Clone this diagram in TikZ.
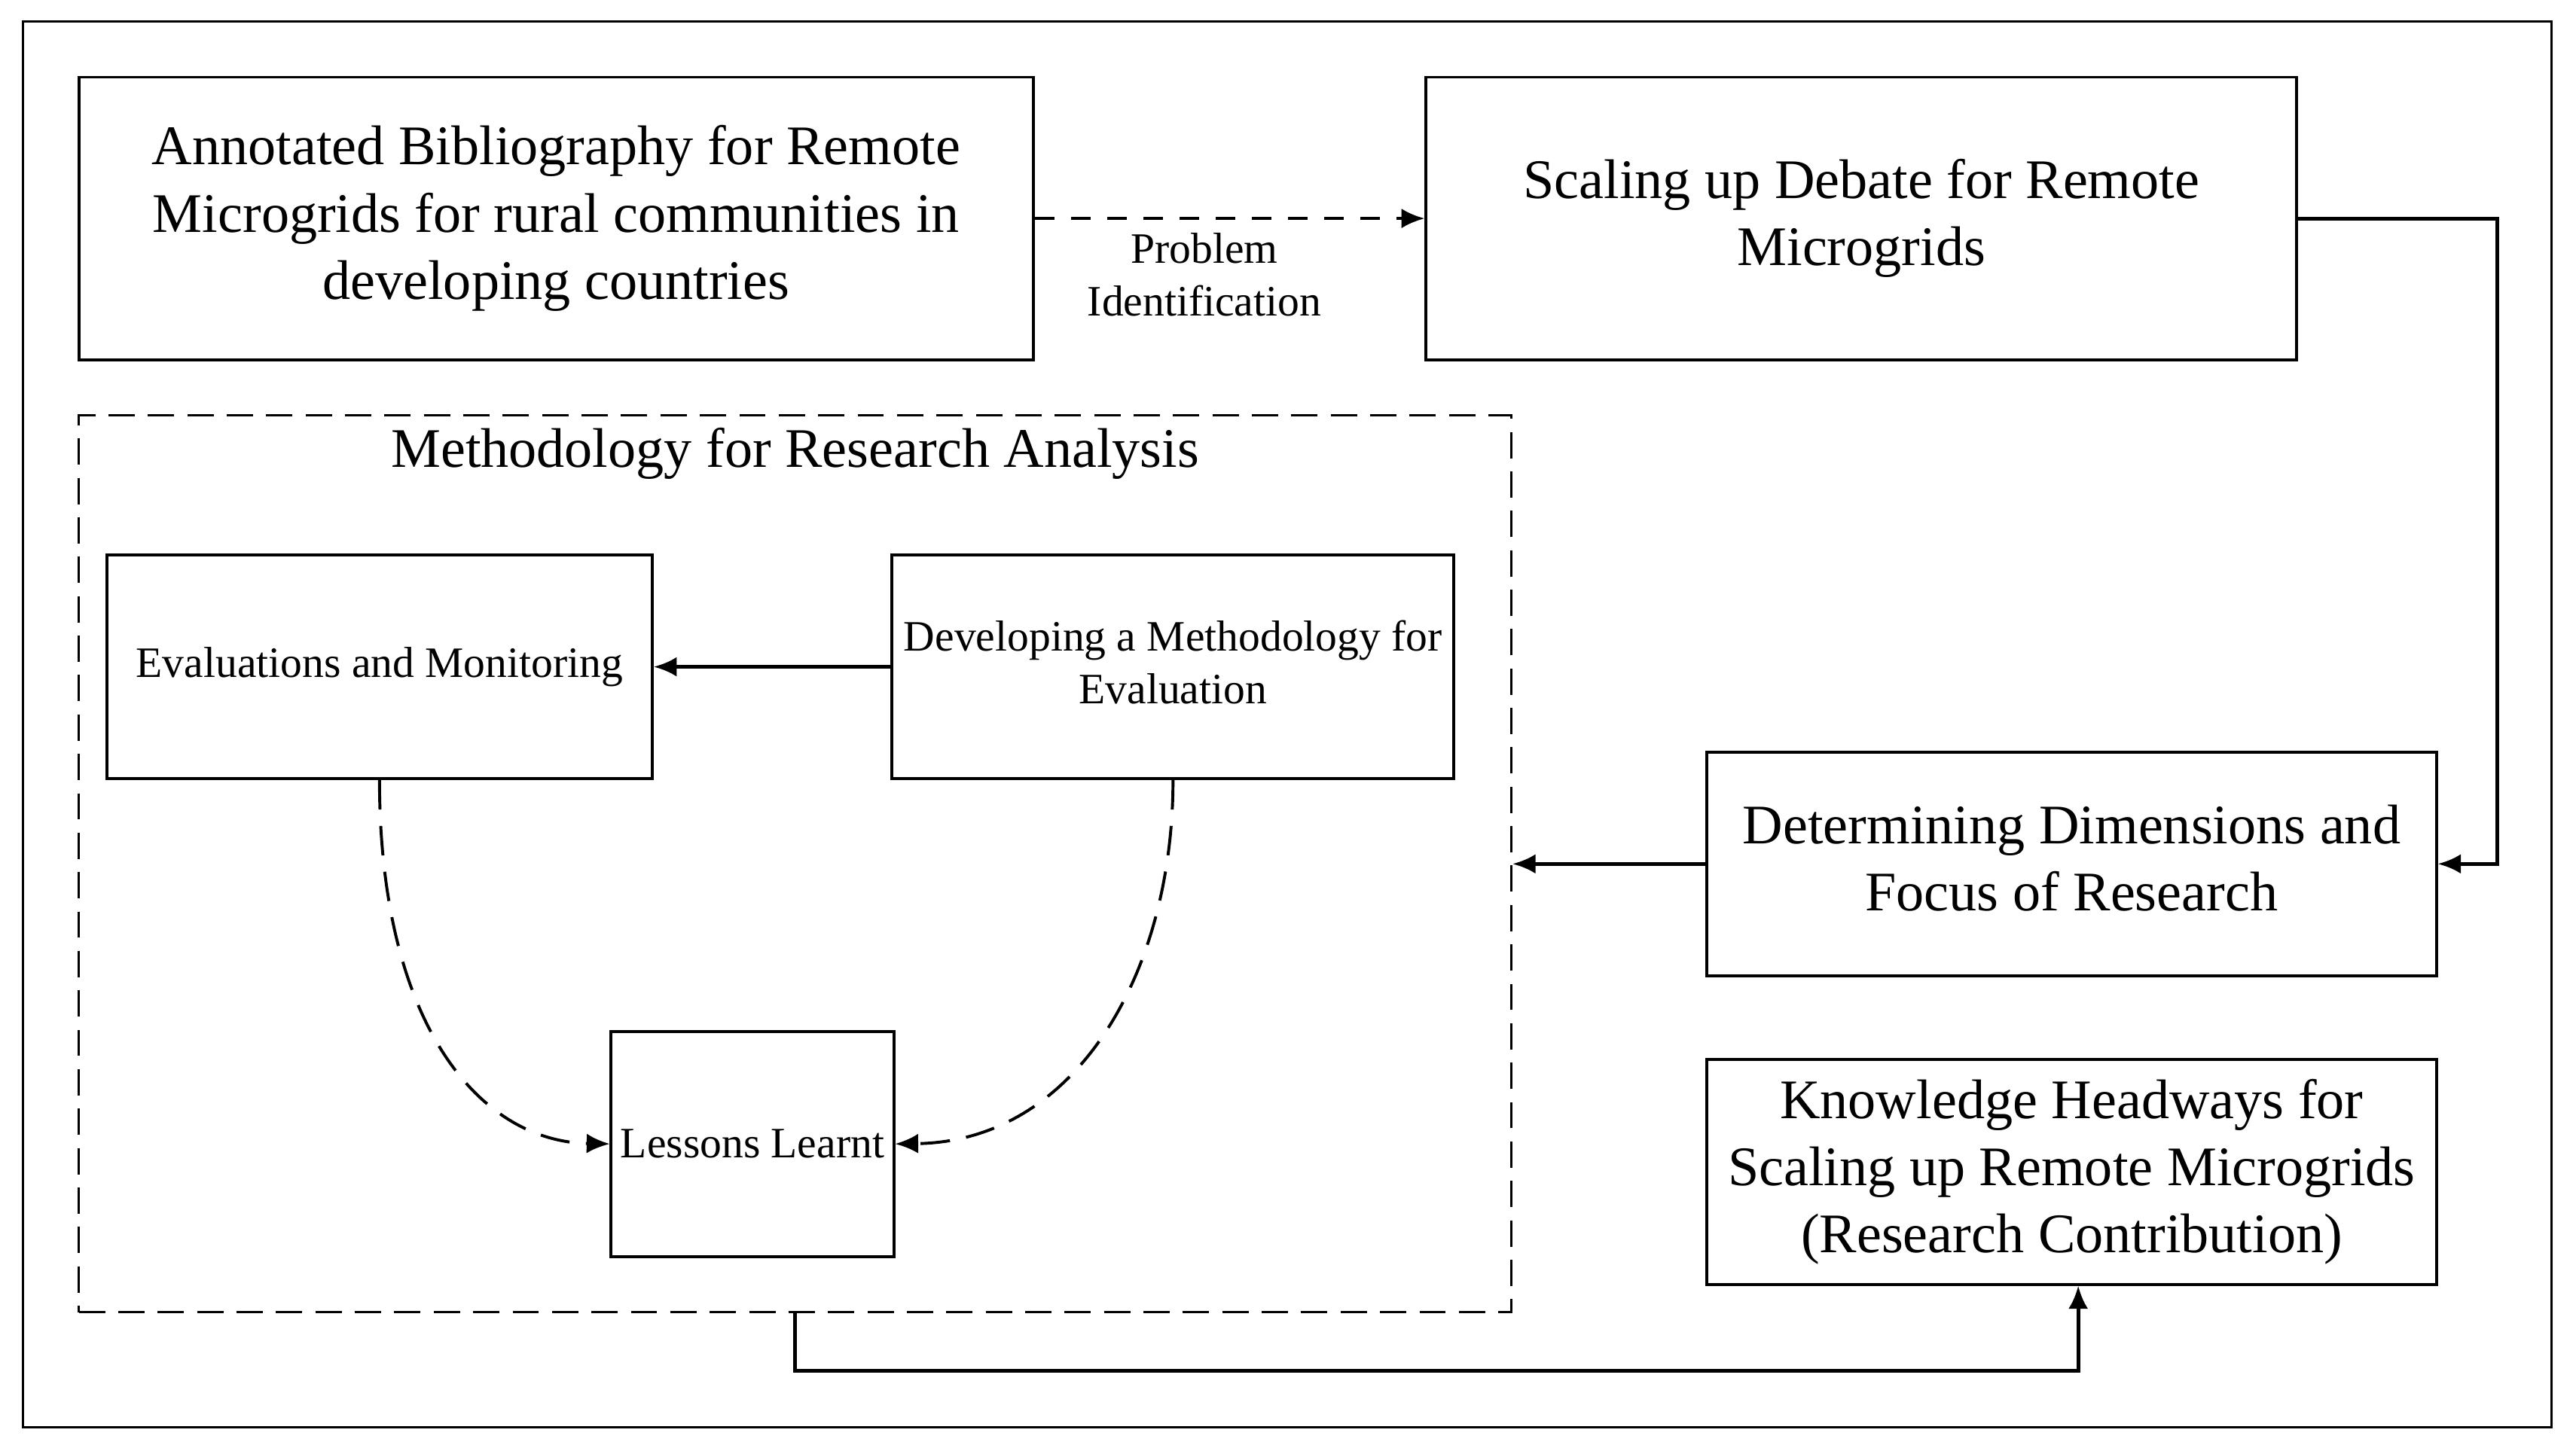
\documentclass[tikz,border=0pt]{standalone}
\usepackage{fontspec}
\setmainfont{Liberation Serif}
\usetikzlibrary{arrows.meta,calc}
\begin{document}
\begin{tikzpicture}[x=0.5pt,y=-0.5pt,
  bigtxt/.style={font=\fontsize{17pt}{20.5pt}\selectfont},
  smalltxt/.style={font=\fontsize{13.2pt}{16pt}\selectfont},
  boxnode/.style={draw=black,line width=0.9pt,inner sep=0pt,align=center},
  conn/.style={line width=1.1pt,-{Latex[length=7pt,width=6pt]}},
  dashconn/.style={line width=0.9pt,dash pattern=on 6pt off 5pt,-{Latex[length=7pt,width=6pt]}},
  curveconn/.style={line width=0.9pt,dash pattern=on 9pt off 5pt,-{Latex[length=7pt,width=6pt]}}
]
\useasboundingbox (0,0) rectangle (1568,885.3);
\fill[white] (0,0) rectangle (1568,885.3);
\draw[line width=0.8pt] (14,13) rectangle (1553,869);

\node[boxnode,bigtxt,minimum width=290.5pt,minimum height=86pt] (A) at (338.5,133)
  {Annotated Bibliography for Remote\\Microgrids for rural communities in\\developing countries};
\node[boxnode,bigtxt,minimum width=265pt,minimum height=86pt] (B) at (1133,133)
  {Scaling up Debate for Remote\\Microgrids};
\node[draw=black,line width=0.7pt,dash pattern=on 8pt off 4pt,inner sep=0pt,
  minimum width=436pt,minimum height=273pt] (M) at (484,526) {};
\node[bigtxt,inner sep=0pt] (title) at (484,276) {Methodology for Research Analysis};
\node[boxnode,smalltxt,minimum width=166pt,minimum height=68pt] (E) at (231,406)
  {Evaluations and Monitoring};
\node[boxnode,smalltxt,minimum width=171pt,minimum height=68pt] (D) at (714,406)
  {\raisebox{3pt}{\begin{tabular}{@{}c@{}}Developing a Methodology for\\Evaluation\end{tabular}}};
\node[boxnode,smalltxt,minimum width=86pt,minimum height=68.5pt] (L) at (458,696.5)
  {Lessons Learnt};
\node[boxnode,bigtxt,minimum width=222pt,minimum height=68pt] (F) at (1261,526)
  {\raisebox{2pt}{\begin{tabular}{@{}c@{}}Determining Dimensions and\\Focus of Research\end{tabular}}};
\node[boxnode,bigtxt,minimum width=222pt,minimum height=68.5pt] (K) at (1261,713.5)
  {Knowledge Headways for\\Scaling up Remote Microgrids\\(Research Contribution)};

\draw[dashconn] (A.east) -- node[pos=0.435,below=4pt,smalltxt,align=center,inner sep=0pt]
  {Problem\\Identification} (B.east -| B.west);
\draw[conn] (D.west) -- (E.east);
\draw[curveconn] (E.south) .. controls (231,624) and (292,695) .. (L.west);
\draw[curveconn] (D.south) .. controls (714,594) and (654,695) .. (L.east);
\draw[conn] (B.east) -- ++(121,0) |- (F.east);
\draw[conn] (F.west) -- (M.east);
\draw[conn] (M.south) -- ++(0,35) -| ($(K.south)+(4,0)$);
\end{tikzpicture}
\end{document}
